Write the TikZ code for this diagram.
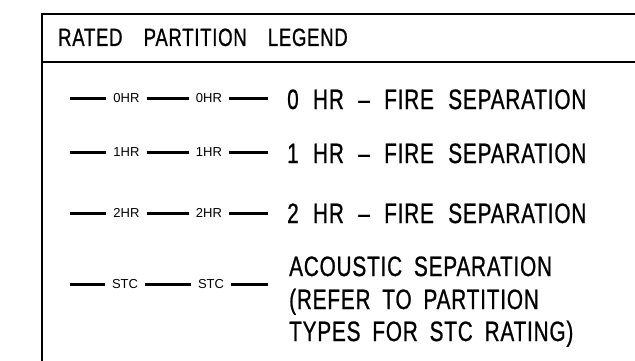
\documentclass[tikz,border=0pt]{standalone}
\usepackage{fontspec}
\setmainfont{Liberation Sans}
\newfontfamily\cadfont[FakeStretch=0.74,LetterSpace=3,WordSpace=1.8,FakeBold=0.8]{Liberation Sans}
\newfontfamily\cadtag{Liberation Sans}
\newcommand{\widespaces}{\spaceskip=14.4pt\relax}
\begin{document}
\begin{tikzpicture}[x=1pt,y=-1pt,
  frame/.style={line width=2.8pt},
  wall/.style={line width=3pt},
  tag/.style={font=\cadtag\fontsize{13}{13}\selectfont, inner xsep=7pt, inner ysep=0pt, text height=9.3pt, text depth=0pt, anchor=center},
  big/.style={font=\cadfont\fontsize{28}{28}\selectfont, inner sep=0pt, text height=20pt, text depth=0pt, anchor=west},
  head/.style={font=\cadfont\fontsize{25}{25}\selectfont, inner sep=0pt, text height=17.9pt, text depth=0pt, anchor=west}]
\useasboundingbox (0,0) rectangle (635,360);
\draw[frame] (42,400) -- (42,14) -- (700,14);
\draw[frame] (42,62) -- (700,62);
\node[head] (title) at (58,37) {RATED\ \ PARTITION\ \ LEGEND};
% row 0HR
\coordinate (a0) at (70,98); \coordinate (b0) at (268,98);
\node[tag] (p0) at (126.5,98) {0HR};
\node[tag] (q0) at (209,98) {0HR};
\draw[wall] (a0) -- (p0.west) (p0.east) -- (q0.west) (q0.east) -- (b0);
\node[big] (t0) at (287,99) {\widespaces 0 HR \textendash{} FIRE SEPARATION};
% row 1HR
\coordinate (a1) at (70,152); \coordinate (b1) at (268,152);
\node[tag] (p1) at (126.5,152) {1HR};
\node[tag] (q1) at (209,152) {1HR};
\draw[wall] (a1) -- (p1.west) (p1.east) -- (q1.west) (q1.east) -- (b1);
\node[big] (t1) at (287,153) {\widespaces 1 HR \textendash{} FIRE SEPARATION};
% row 2HR
\coordinate (a2) at (70,213); \coordinate (b2) at (268,213);
\node[tag] (p2) at (126.5,213) {2HR};
\node[tag] (q2) at (209,213) {2HR};
\draw[wall] (a2) -- (p2.west) (p2.east) -- (q2.west) (q2.east) -- (b2);
\node[big] (t2) at (287,213) {\widespaces 2 HR \textendash{} FIRE SEPARATION};
% row STC
\coordinate (a3) at (70,284); \coordinate (b3) at (268,284);
\node[tag] (p3) at (125,284) {STC};
\node[tag] (q3) at (211,284) {STC};
\draw[wall] (a3) -- (p3.west) (p3.east) -- (q3.west) (q3.east) -- (b3);
\node[big] (s1) at (289,266) {ACOUSTIC SEPARATION};
\node[big] (s2) at (289,299) {(REFER TO PARTITION};
\node[big] (s3) at (289,331) {TYPES FOR STC RATING)};
\end{tikzpicture}
\end{document}
